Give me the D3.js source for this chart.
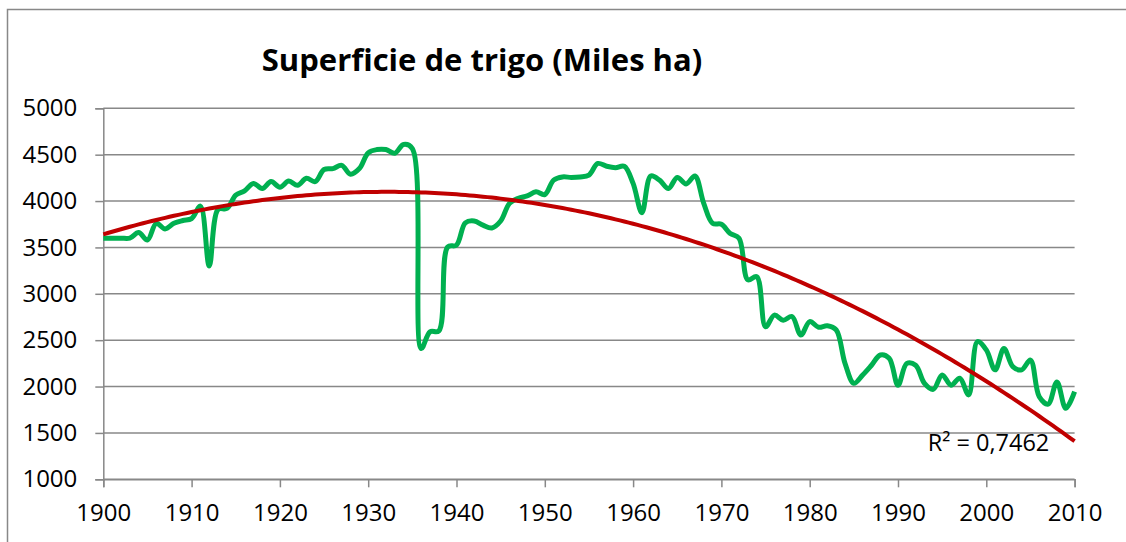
<!DOCTYPE html>
<html>
<head>
<meta charset="utf-8">
<script src="https://cdn.jsdelivr.net/npm/d3@7"></script>
<style>
  body { margin: 0; background: #fff; }
  text { font-family: "Open Sans", sans-serif; }
</style>
</head>
<body>
<div id="app"></div>
<script>
// superficie de trigo, miles de ha, 1900-2010
let startYear = 1900;
let hectares = [
  3600, 3600, 3600, 3600, 3660, 3580, 3760, 3700, 3760, 3790,
  3810, 3945, 3300, 3910, 3920, 4065, 4110, 4190, 4135, 4210,
  4150, 4215, 4170, 4245, 4210, 4340, 4350, 4385, 4290, 4350,
  4520, 4555, 4555, 4515, 4610, 4565, 2410, 2590, 2600, 3505,
  3525, 3765, 3785, 3740, 3710, 3785, 3975, 4030, 4055, 4100,
  4070, 4225, 4260, 4255, 4260, 4280, 4405, 4375, 4360, 4375,
  4190, 3875, 4270, 4225, 4135, 4255, 4185, 4270, 3975, 3760,
  3750, 3650, 3600, 3150, 3185, 2645, 2770, 2715, 2755, 2555,
  2700, 2640, 2655, 2610, 2250, 2035, 2125, 2230, 2340, 2305,
  2015, 2250, 2230, 2035, 1970, 2125, 2015, 2090, 1910, 2485,
  2395, 2180, 2410, 2215, 2180, 2285, 1890, 1810, 2050, 1765,
  1945
];
let years = hectares.map((d, i) => startYear + i);

let yTicks = [1000, 1500, 2000, 2500, 3000, 3500, 4000, 4500, 5000];
let xTicks = [1900, 1910, 1920, 1930, 1940, 1950, 1960, 1970, 1980, 1990, 2000, 2010];
let title = 'Superficie de trigo (Miles ha)';
let r2Label = 'R² = 0,7462';

let W = 1126, H = 542;
let margin = { top: 108.3, right: 51.4, bottom: 62.7, left: 103.3 };
let width = W - margin.left - margin.right;
let height = H - margin.top - margin.bottom;

let x = d3.scaleLinear().domain([1900, 2010]).range([0, width]);
let y = d3.scaleLinear().domain([1000, 5000]).range([height, 0]);

// polynomial trend (order 2), least squares on the data
function quadFit(xs, ys) {
  let m = d3.mean(xs);
  let S = [0, 0, 0, 0, 0], T = [0, 0, 0];
  xs.forEach((xv, i) => {
    let t = xv - m, p = 1;
    for (let k = 0; k < 5; k++) { S[k] += p; if (k < 3) T[k] += p * ys[i]; p *= t; }
  });
  let A = [[S[0], S[1], S[2], T[0]], [S[1], S[2], S[3], T[1]], [S[2], S[3], S[4], T[2]]];
  for (let i = 0; i < 3; i++) {
    for (let j = i + 1; j < 3; j++) {
      let f = A[j][i] / A[i][i];
      for (let k = i; k < 4; k++) A[j][k] -= f * A[i][k];
    }
  }
  let c = [0, 0, 0];
  for (let i = 2; i >= 0; i--) {
    let s = A[i][3];
    for (let k = i + 1; k < 3; k++) s -= A[i][k] * c[k];
    c[i] = s / A[i][i];
  }
  return xv => c[0] + c[1] * (xv - m) + c[2] * (xv - m) * (xv - m);
}
let trend = quadFit(years, hectares);
let trendYears = d3.range(1900, 2010.01, 0.5);

let svg = d3.select('#app').append('svg')
    .attr('width', W)
    .attr('height', H)
    .style('display', 'block');

// chart border (cut by the picture edges on right and bottom)
svg.append('rect')
    .attr('x', 7.5).attr('y', 9.5)
    .attr('width', W + 20).attr('height', H + 20)
    .attr('fill', '#fff')
    .attr('stroke', '#888').attr('stroke-width', 1.5);

svg.append('text')
    .attr('x', 482)
    .attr('y', 71)
    .attr('text-anchor', 'middle')
    .style('font-size', '31px')
    .style('font-weight', 'bold')
    .text(title);

let g = svg.append('g')
    .attr('transform', `translate(${margin.left}, ${margin.top})`);

// gridlines
g.selectAll('line.grid')
  .data(yTicks)
  .enter()
  .append('line')
    .attr('class', 'grid')
    .attr('x1', 0).attr('x2', width)
    .attr('y1', d => y(d)).attr('y2', d => y(d))
    .attr('stroke', '#888').attr('stroke-width', 1.5);

let yAxis = d3.axisLeft(y).tickValues(yTicks).tickSize(8).tickPadding(18).tickFormat(d3.format('d'));
let xAxis = d3.axisBottom(x).tickValues(xTicks).tickSize(8).tickPadding(17).tickFormat(d3.format('d'));

let yg = g.append('g').call(yAxis);
let xg = g.append('g').attr('transform', `translate(0, ${height})`).call(xAxis);

[yg, xg].forEach(a => {
  a.select('.domain').attr('stroke', '#888').attr('stroke-width', 1.5);
  a.selectAll('.tick line').attr('stroke', '#888').attr('stroke-width', 1.5);
  a.selectAll('.tick text')
    .attr('fill', '#000')
    .style('font-family', '"Open Sans", sans-serif')
    .style('font-size', '24px');
});

let line = d3.line()
    .x(d => x(d[0]))
    .y(d => y(d[1]))
    .curve(d3.curveCatmullRom.alpha(0.5));

g.append('path')
    .datum(years.map((yr, i) => [yr, hectares[i]]))
    .attr('d', line)
    .attr('fill', 'none')
    .attr('stroke', '#00B050')
    .attr('stroke-width', 5)
    .attr('stroke-linejoin', 'round');

g.append('path')
    .datum(trendYears.map(t => [t, trend(t)]))
    .attr('d', d3.line().x(d => x(d[0])).y(d => y(d[1])))
    .attr('fill', 'none')
    .attr('stroke', '#C00000')
    .attr('stroke-width', 4);

g.append('text')
    .attr('x', x(2000.25))
    .attr('y', 451 - margin.top)
    .attr('text-anchor', 'middle')
    .style('font-size', '23.5px')
    .text(r2Label);
</script>
</body>
</html>
